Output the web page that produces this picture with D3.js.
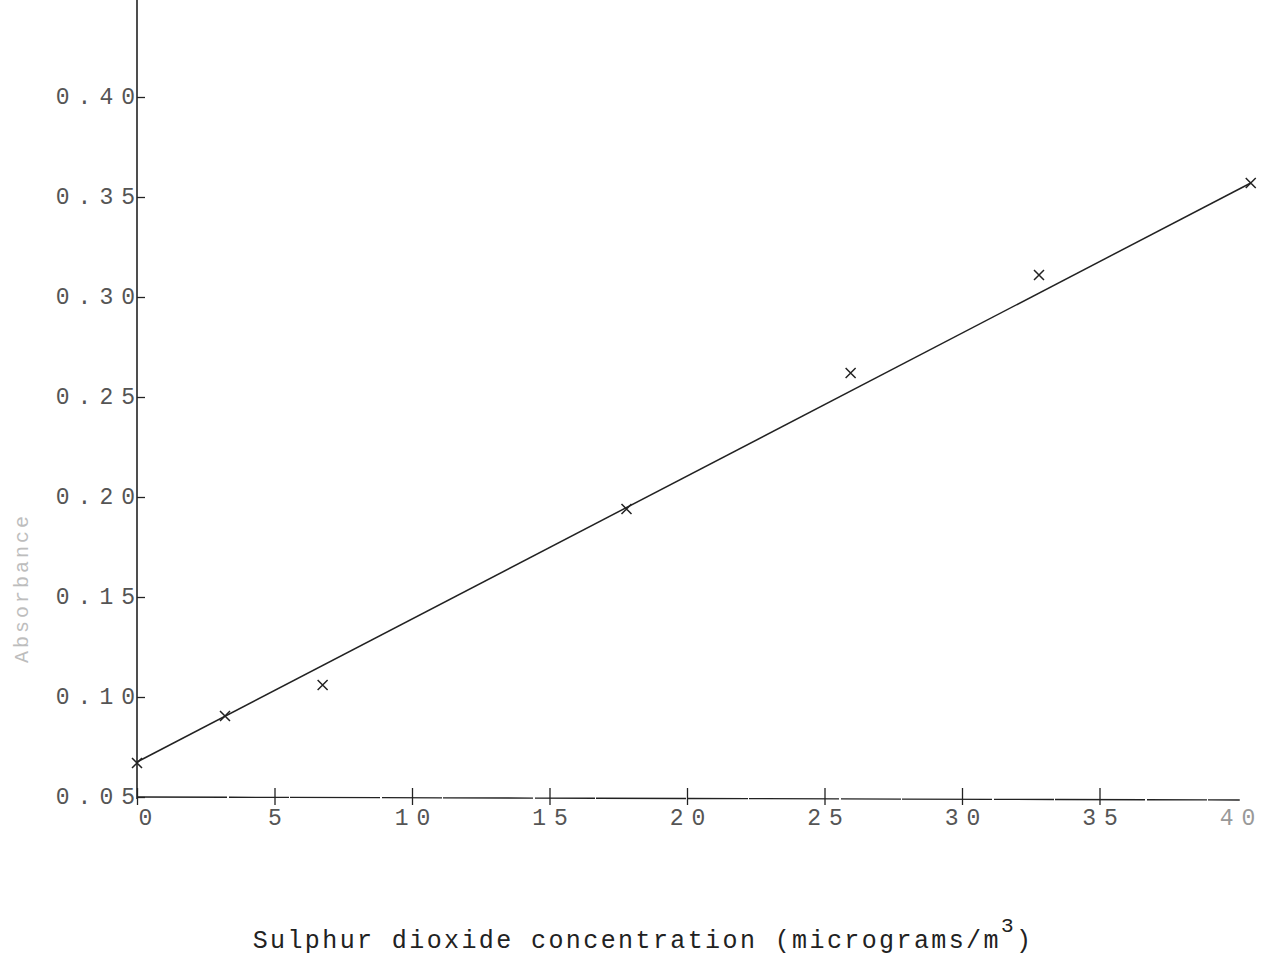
<!DOCTYPE html>
<html>
<head>
<meta charset="utf-8">
<script src="https://cdn.jsdelivr.net/npm/d3@7"></script>
<style>
  html, body { margin: 0; padding: 0; background: #fff; }
  svg { display: block; }
  .tick text { font-family: "Liberation Mono", "DejaVu Sans Mono", monospace; }
</style>
</head>
<body>
<svg id="chart" width="1262" height="965"></svg>
<script>
// Calibration data: SO2 concentration vs absorbance
const concentration = [0, 3.2, 6.75, 17.8, 25.95, 32.8, 40.5];
const absorbance    = [0.067, 0.0905, 0.106, 0.194, 0.262, 0.311, 0.357];

// Fitted calibration line end points
const fitX = [0, 40.5];
const fitY = [0.0675, 0.357];

const xTicks = [0, 5, 10, 15, 20, 25, 30, 35, 40];
const yTicks = [0.05, 0.10, 0.15, 0.20, 0.25, 0.30, 0.35, 0.40];

const xTitle = "Sulphur dioxide concentration (micrograms/m";
const yTitle = "Absorbance";

const svg = d3.select("#chart");
const ink = "#222";

const x = d3.scaleLinear().domain([0, 40]).range([137, 1237]);
const y = d3.scaleLinear().domain([0.05, 0.40]).range([797, 97]);

// y axis: line runs to the top of the page, ticks point right
const yAxis = d3.axisLeft(y)
  .tickValues(yTicks)
  .tickFormat(d3.format(".2f"))
  .tickSizeInner(-8)
  .tickSizeOuter(0)
  .tickPadding(-6);
const gy = svg.append("g").attr("transform", `translate(${x(0)},0)`).call(yAxis);
gy.select(".domain").remove();
gy.selectAll(".tick line").attr("stroke", ink).attr("stroke-width", 1.3);
gy.selectAll(".tick text")
  .attr("fill", "#555")
  .attr("font-size", 23)
  .attr("letter-spacing", 8)
  .attr("dy", "0.3em");
svg.append("line")
  .attr("x1", x(0)).attr("x2", x(0))
  .attr("y1", 0).attr("y2", y(0.05) + 2)
  .attr("stroke", ink).attr("stroke-width", 1.6);

// x axis: ticks cross the line
const xAxis = d3.axisBottom(x)
  .tickValues(xTicks)
  .tickFormat(d3.format("d"))
  .tickSizeInner(8)
  .tickSizeOuter(0)
  .tickPadding(4);
const gx = svg.append("g").attr("transform", `translate(0,${y(0.05)})`).call(xAxis);
gx.select(".domain").remove();
gx.selectAll(".tick line").attr("y1", -9).attr("stroke", ink).attr("stroke-width", 1.3);
gx.selectAll(".tick text")
  .attr("fill", "#555")
  .attr("font-size", 23)
  .attr("letter-spacing", 8)
  .attr("dx", 4);
gx.selectAll(".tick").filter(d => d === 0).select("text").attr("dx", 12);
gx.selectAll(".tick").filter(d => d === 40).select("text").attr("fill", "#999");
gx.selectAll(".tick").filter(d => d === 40).select("line").remove();
svg.append("line")
  .attr("x1", x(0)).attr("x2", x(40.1))
  .attr("y1", y(0.05)).attr("y2", y(0.05) + 3)
  .attr("stroke", ink).attr("stroke-width", 1.3)
  .attr("stroke-dasharray", "90 2 60 1");

// fitted line
svg.append("path")
  .datum(d3.zip(fitX, fitY))
  .attr("d", d3.line().x(d => x(d[0])).y(d => y(d[1])))
  .attr("fill", "none")
  .attr("stroke", ink)
  .attr("stroke-width", 1.5);

// measured points as crosses
const pts = d3.zip(concentration, absorbance);
const s = 5;
const marks = svg.append("g").attr("stroke", ink).attr("stroke-width", 1.5);
marks.selectAll("path.pt").data(pts).join("path")
  .attr("class", "pt")
  .attr("d", d => {
    const cx = x(d[0]), cy = y(d[1]);
    return `M${cx - s},${cy - s}L${cx + s},${cy + s}M${cx + s},${cy - s}L${cx - s},${cy + s}`;
  });

// axis titles
const title = svg.append("text")
  .attr("x", 643).attr("y", 948)
  .attr("text-anchor", "middle")
  .attr("font-family", "'Liberation Mono', 'DejaVu Sans Mono', monospace")
  .attr("font-size", 25)
  .attr("letter-spacing", 2.4)
  .attr("fill", "#222");
title.append("tspan").text(xTitle);
title.append("tspan").attr("font-size", 21).attr("dy", -16).text("3");
title.append("tspan").attr("dy", 16).text(")");

svg.append("text")
  .attr("transform", "translate(28,588) rotate(-90)")
  .attr("text-anchor", "middle")
  .attr("font-family", "'Liberation Mono', 'DejaVu Sans Mono', monospace")
  .attr("font-size", 20)
  .attr("letter-spacing", 3)
  .attr("fill", "#bdbdbd")
  .text(yTitle);
</script>
</body>
</html>
